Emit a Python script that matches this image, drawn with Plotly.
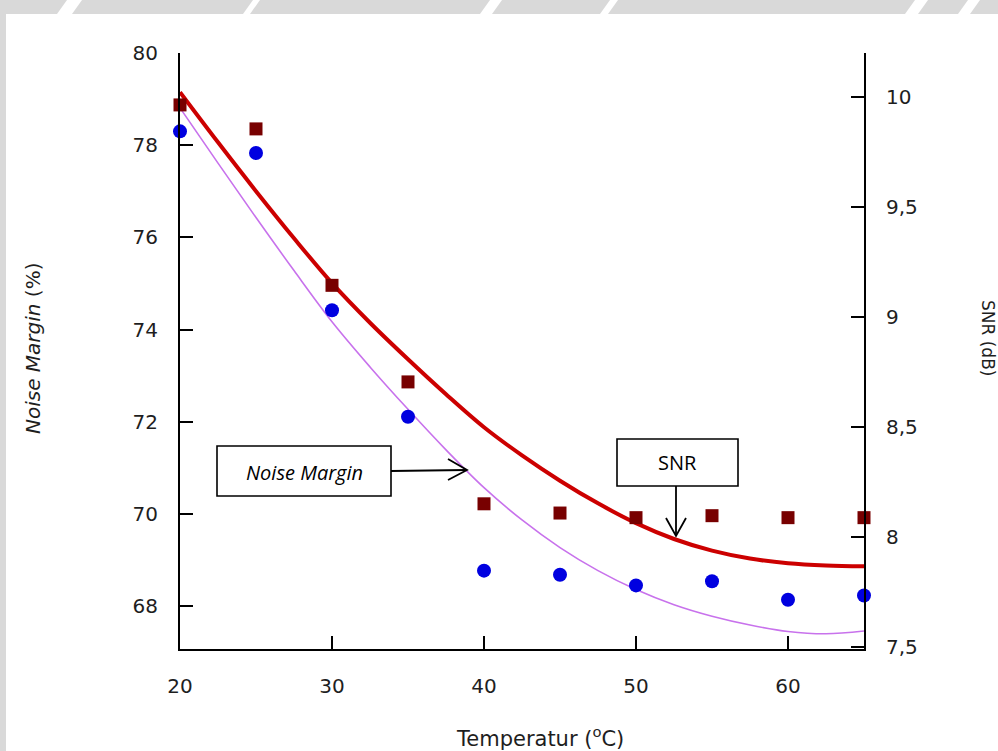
import plotly.graph_objects as go

# ---- data ----
temp = [20, 25, 30, 35, 40, 45, 50, 55, 60, 65]
noise_margin = [78.30, 77.83, 74.42, 72.11, 68.77, 68.68, 68.45, 68.54, 68.14, 68.23]
snr = [9.965, 9.856, 9.145, 8.706, 8.152, 8.110, 8.089, 8.098, 8.089, 8.089]

fit_temp = [20, 22.5, 25, 27.5, 30, 32.5, 35, 37.5, 40, 42.5, 45, 47.5,
            50, 52.5, 55, 57.5, 60, 62.5, 65]
noise_fit = [78.81, 77.61, 76.43, 75.28, 74.17, 73.19, 72.27, 71.39, 70.57,
             69.87, 69.27, 68.77, 68.36, 68.03, 67.78, 67.59, 67.45, 67.40, 67.46]
snr_fit = [10.023, 9.795, 9.573, 9.359, 9.155, 8.975, 8.809, 8.650, 8.500,
           8.372, 8.257, 8.154, 8.064, 7.992, 7.939, 7.903, 7.882, 7.872, 7.868]

x_ticks = [20, 30, 40, 50, 60]
y_ticks = [68, 70, 72, 74, 76, 78, 80]
y2_ticks = [7.5, 8, 8.5, 9, 9.5, 10]
y2_ticktext = ["7,5", "8", "8,5", "9", "9,5", "10"]

# ---- layout geometry (pixels) ----
W, H = 998, 751
L, R, T, B = 180, 864, 53, 649


def px(x):
    return (x - L) / (R - L)


def py(y):
    return (B - y) / (B - T)


FONT = "DejaVu Sans"
TXT = "#1e1e1e"

fig = go.Figure()
fig.add_trace(go.Scatter(x=fit_temp, y=noise_fit, mode="lines",
                         line=dict(color="#c872ec", width=1.6, shape="spline", smoothing=1.0),
                         yaxis="y", showlegend=False, hoverinfo="skip"))
fig.add_trace(go.Scatter(x=fit_temp, y=snr_fit, mode="lines",
                         line=dict(color="#cc0000", width=4, shape="spline", smoothing=1.0),
                         yaxis="y2", showlegend=False, hoverinfo="skip"))
fig.add_trace(go.Scatter(x=temp, y=noise_margin, mode="markers",
                         marker=dict(symbol="circle", size=14, color="#0000e0"),
                         yaxis="y", showlegend=False, cliponaxis=False))
fig.add_trace(go.Scatter(x=temp, y=snr, mode="markers",
                         marker=dict(symbol="square", size=13, color="#780000"),
                         yaxis="y2", showlegend=False, cliponaxis=False))

axis_common = dict(showline=True, linecolor="black", linewidth=2,
                   ticks="inside", ticklen=13, tickwidth=2, tickcolor="black",
                   showgrid=False, zeroline=False,
                   tickfont=dict(family=FONT, size=20, color=TXT))

shapes = []
# light grey page border (watermark strip) -> white sheet
shapes.append(dict(type="rect", xref="paper", yref="paper", layer="below",
                   x0=px(6), x1=px(W + 5), y0=py(14), y1=py(H + 5),
                   fillcolor="white", line=dict(width=0)))
# faint white watermark strokes in the grey strip
for (a, b) in [(57, 72), (243, 250), (480, 492), (600, 608), (905, 918), (958, 970)]:
    shapes.append(dict(type="path", xref="paper", yref="paper", layer="below",
                       path=f"M {px(a)} {py(14)} L {px(a + 10)} {py(0)} L {px(b + 10)} {py(0)} L {px(b)} {py(14)} Z",
                       fillcolor="white", line=dict(width=0)))

# annotation boxes
box_line = dict(color="black", width=1.6)
shapes.append(dict(type="rect", xref="paper", yref="paper", layer="above",
                   x0=px(217), x1=px(391), y0=py(496), y1=py(446),
                   fillcolor="white", line=box_line))
shapes.append(dict(type="rect", xref="paper", yref="paper", layer="above",
                   x0=px(617), x1=px(738), y0=py(486), y1=py(439),
                   fillcolor="white", line=box_line))
# arrow: Noise Margin
arr = dict(color="black", width=1.8)
shapes.append(dict(type="line", xref="paper", yref="paper", layer="above",
                   x0=px(391), y0=py(471), x1=px(466), y1=py(470), line=arr))
shapes.append(dict(type="path", xref="paper", yref="paper", layer="above",
                   path=f"M {px(448)} {py(459)} L {px(467)} {py(470)} L {px(448)} {py(480)}",
                   line=arr))
# arrow: SNR
shapes.append(dict(type="line", xref="paper", yref="paper", layer="above",
                   x0=px(676), y0=py(486), x1=px(676), y1=py(535), line=arr))
shapes.append(dict(type="path", xref="paper", yref="paper", layer="above",
                   path=f"M {px(666)} {py(518)} L {px(676)} {py(536)} L {px(686)} {py(518)}",
                   line=arr))

annotations = [
    dict(text="<i>Noise Margin</i>", xref="paper", yref="paper",
         x=px(304), y=py(472), showarrow=False, xanchor="center", yanchor="middle",
         font=dict(family="Open Sans", size=20, color="black")),
    dict(text="SNR", xref="paper", yref="paper",
         x=px(677.5), y=py(463), showarrow=False, xanchor="center", yanchor="middle",
         font=dict(family="Open Sans", size=20, color="black")),
    dict(text="<i>Noise Margin</i> (%)", xref="paper", yref="paper",
         x=px(33), y=py(349), showarrow=False, textangle=-90,
         xanchor="center", yanchor="middle",
         font=dict(family=FONT, size=20, color=TXT)),
    dict(text="SNR (dB)", xref="paper", yref="paper",
         x=px(988), y=py(338), showarrow=False, textangle=90,
         xanchor="center", yanchor="middle",
         font=dict(family=FONT, size=17, color=TXT)),
    dict(text="Temperatur (<sup>o</sup>C)", xref="paper", yref="paper",
         x=px(540), y=py(737), showarrow=False,
         xanchor="center", yanchor="middle",
         font=dict(family=FONT, size=21, color=TXT)),
]

fig.update_layout(
    width=W, height=H,
    margin=dict(l=L, r=W - R, t=T, b=H - B, pad=0),
    paper_bgcolor="#d9d9d9", plot_bgcolor="white",
    showlegend=False,
    xaxis=dict(range=[20, 65], tickvals=x_ticks, ticklabelstandoff=18, **axis_common),
    yaxis=dict(range=[67.07, 80.0], tickvals=y_ticks, ticklabelstandoff=16, **axis_common),
    yaxis2=dict(range=[7.492, 10.201], tickvals=y2_ticks, ticktext=y2_ticktext,
                overlaying="y", side="right", anchor="x", ticklabelstandoff=16,
                **axis_common),
    shapes=shapes,
    annotations=annotations,
)

fig.write_html("out.html")
